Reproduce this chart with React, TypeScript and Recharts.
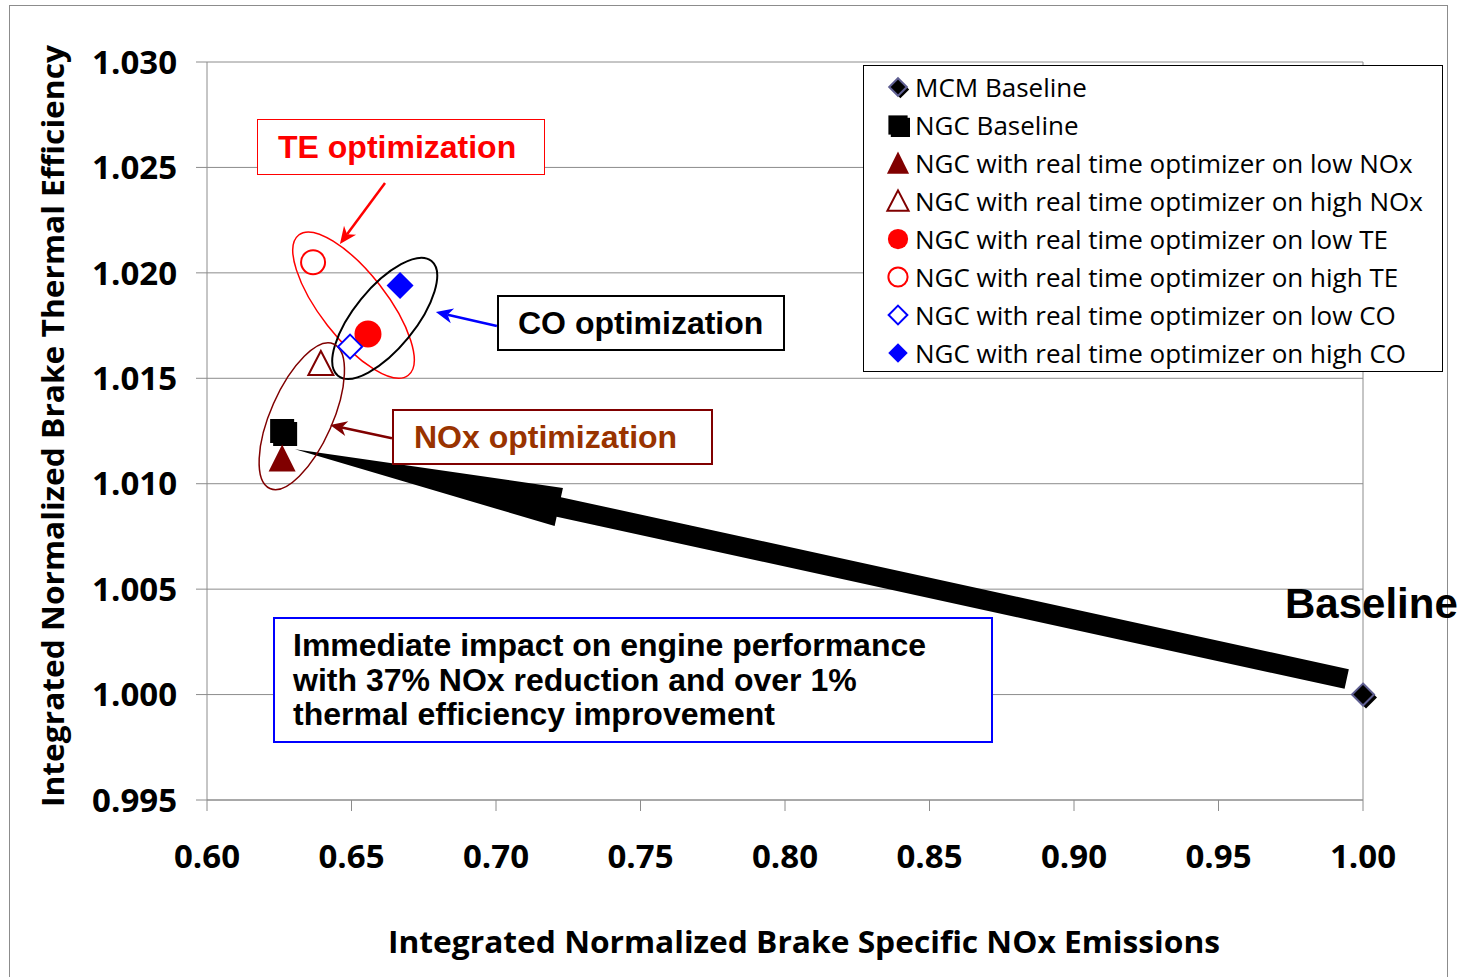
import React from 'react';
import {
  ScatterChart,
  Scatter,
  XAxis,
  YAxis,
  CartesianGrid,
  Legend,
  ReferenceDot,
  ReferenceLine,
} from 'recharts';

// ---------- data ----------
const xTicks = [0.6, 0.65, 0.7, 0.75, 0.8, 0.85, 0.9, 0.95, 1.0];
const yTicks = [0.995, 1.0, 1.005, 1.01, 1.015, 1.02, 1.025, 1.03];

const seriesNames = [
  'MCM Baseline',
  'NGC Baseline',
  'NGC with real time optimizer on low NOx',
  'NGC with real time optimizer on high NOx',
  'NGC with real time optimizer on low TE',
  'NGC with real time optimizer on high TE',
  'NGC with real time optimizer on low CO',
  'NGC with real time optimizer on high CO',
];

const mcmBaseline = [{ x: 1.0, y: 1.0 }];
const ngcBaseline = [{ x: 0.626, y: 1.0125 }];
const lowNOx = [{ x: 0.626, y: 1.0112 }];
const highNOx = [{ x: 0.6394, y: 1.0157 }];
const lowTE = [{ x: 0.6557, y: 1.0171 }];
const highTE = [{ x: 0.6367, y: 1.0205 }];
const lowCO = [{ x: 0.6495, y: 1.0165 }];
const highCO = [{ x: 0.6668, y: 1.0194 }];

// annotation anchors (data coordinates)
const teEllipseCenter = { x: 0.6507, y: 1.01847 };
const coEllipseCenter = { x: 0.6615, y: 1.01784 };
const noxEllipseCenter = { x: 0.6328, y: 1.0132 };
const bigArrow = [{ x: 0.99436, y: 1.00074 }, { x: 0.63045, y: 1.01163 }];
const teArrow = [{ x: 0.6616, y: 1.02426 }, { x: 0.646, y: 1.02137 }];
const coArrow = [{ x: 0.7003, y: 1.01748 }, { x: 0.6792, y: 1.01814 }];
const noxArrow = [{ x: 0.664, y: 1.01216 }, { x: 0.6426, y: 1.01278 }];

// ---------- styles ----------
const FONT_C = '"Open Sans", "Noto Sans", sans-serif';
const FONT_A = '"Liberation Sans", Arial, sans-serif';
const GRID = '#8c8c8c';
const DARKRED = '#800000';

type Kind = 'mcm' | 'ngc' | 'triF' | 'triO' | 'cirF' | 'cirO' | 'diaO' | 'diaF';
const kinds: Kind[] = ['mcm', 'ngc', 'triF', 'triO', 'cirF', 'cirO', 'diaO', 'diaF'];

function diamond(cx: number, cy: number, h: number) {
  return `${cx},${cy - h} ${cx + h},${cy} ${cx},${cy + h} ${cx - h},${cy}`;
}

function drawMarker(kind: Kind, cx: number, cy: number, s: number) {
  switch (kind) {
    case 'mcm':
      return (
        <g>
          <polygon points={diamond(cx + 3 * s, cy + 3 * s, 11 * s)} fill="#000" />
          <polygon points={diamond(cx, cy, 11 * s)} fill="#000" stroke="#5f5f92" strokeWidth={2} />
        </g>
      );
    case 'ngc':
      return (
        <g>
          <rect x={cx - 12 * s + 3 * s} y={cy - 12 * s + 3 * s} width={24 * s} height={24 * s} fill="#000" />
          <rect x={cx - 12 * s} y={cy - 12 * s} width={24 * s} height={24 * s} fill="#000" />
        </g>
      );
    case 'triF':
      return (
        <polygon
          points={`${cx},${cy - 14 * s} ${cx + 13.5 * s},${cy + 13 * s} ${cx - 13.5 * s},${cy + 13 * s}`}
          fill={DARKRED}
        />
      );
    case 'triO':
      return (
        <polygon
          points={`${cx},${cy - 12.5 * s} ${cx + 12.5 * s},${cy + 11.5 * s} ${cx - 12.5 * s},${cy + 11.5 * s}`}
          fill="#fff"
          stroke={DARKRED}
          strokeWidth={2}
        />
      );
    case 'cirF':
      return <circle cx={cx} cy={cy} r={13.5 * s} fill="#ff0000" />;
    case 'cirO':
      return <circle cx={cx} cy={cy} r={12 * s} fill="#fff" stroke="#ff0000" strokeWidth={2} />;
    case 'diaO':
      return <polygon points={diamond(cx, cy, 12 * s)} fill="#fff" stroke="#0000ff" strokeWidth={2} />;
    case 'diaF':
      return <polygon points={diamond(cx, cy, 13.5 * s)} fill="#0000ff" />;
  }
  return null;
}

const legendMarkerScale: Record<Kind, number> = {
  mcm: 0.8,
  ngc: 0.8,
  triF: 0.82,
  triO: 0.85,
  cirF: 0.75,
  cirO: 0.8,
  diaO: 0.78,
  diaF: 0.72,
};

const LegendBox = (props: any) => {
  const payload = ((props && props.payload) || []).slice();
  payload.sort((a: any, b: any) => seriesNames.indexOf(a.value) - seriesNames.indexOf(b.value));
  return (
    <div
      style={{
        width: 580,
        height: 307,
        border: '1px solid #000',
        background: '#fff',
        boxSizing: 'border-box',
        paddingTop: 2,
      }}
    >
      {payload.map((p: any, i: number) => {
        const idx = seriesNames.indexOf(p.value);
        const kind = kinds[idx >= 0 ? idx : i];
        return (
          <div key={i} style={{ height: 38, position: 'relative' }}>
            <svg width={40} height={38} style={{ position: 'absolute', left: 14, top: 0 }}>
              {drawMarker(kind, 20, 19, legendMarkerScale[kind])}
            </svg>
            <span
              style={{
                position: 'absolute',
                left: 51,
                top: 0,
                fontFamily: FONT_C,
                fontSize: 26,
                lineHeight: '38px',
                color: '#000',
                whiteSpace: 'nowrap',
              }}
            >
              {p.value}
            </span>
          </div>
        );
      })}
    </div>
  );
};

const ellipseShape = (rx: number, ry: number, angle: number, color: string, sw: number) => (p: any) => (
  <ellipse
    cx={p.cx}
    cy={p.cy}
    rx={rx}
    ry={ry}
    transform={`rotate(${angle} ${p.cx} ${p.cy})`}
    fill="none"
    stroke={color}
    strokeWidth={sw}
  />
);

const bigArrowShape = (p: any) => {
  const { x1, y1, x2, y2 } = p; // x1,y1 tail ; x2,y2 tip
  const dx = x1 - x2;
  const dy = y1 - y2;
  const len = Math.sqrt(dx * dx + dy * dy) || 1;
  const ux = dx / len;
  const uy = dy / len;
  const nx = -uy;
  const ny = ux;
  const headLen = 270;
  const headHalf = 19.5;
  const shaftHalf = 10;
  const bx = x2 + ux * headLen;
  const by = y2 + uy * headLen;
  const pts = [
    [x2, y2],
    [bx + nx * headHalf, by + ny * headHalf],
    [bx + nx * shaftHalf, by + ny * shaftHalf],
    [x1 + nx * shaftHalf, y1 + ny * shaftHalf],
    [x1 - nx * shaftHalf, y1 - ny * shaftHalf],
    [bx - nx * shaftHalf, by - ny * shaftHalf],
    [bx - nx * headHalf, by - ny * headHalf],
  ]
    .map((q) => `${q[0]},${q[1]}`)
    .join(' ');
  return <polygon points={pts} fill="#000" />;
};

const smallArrowShape = (color: string) => (p: any) => {
  const { x1, y1, x2, y2 } = p; // tail -> head
  const dx = x2 - x1;
  const dy = y2 - y1;
  const len = Math.sqrt(dx * dx + dy * dy) || 1;
  const ux = dx / len;
  const uy = dy / len;
  const nx = -uy;
  const ny = ux;
  const hl = 17;
  const hw = 7.5;
  const notch = 5;
  const bx = x2 - ux * hl;
  const by = y2 - uy * hl;
  const head = [
    [x2, y2],
    [bx + nx * hw, by + ny * hw],
    [x2 - ux * (hl - notch), y2 - uy * (hl - notch)],
    [bx - nx * hw, by - ny * hw],
  ]
    .map((q) => `${q[0]},${q[1]}`)
    .join(' ');
  return (
    <g>
      <line
        x1={x1}
        y1={y1}
        x2={x2 - ux * (hl - notch)}
        y2={y2 - uy * (hl - notch)}
        stroke={color}
        strokeWidth={2.5}
      />
      <polygon points={head} fill={color} />
    </g>
  );
};

const tickStyle = { fill: '#000', fontSize: 33, fontWeight: 700, fontFamily: FONT_C };

const boxText: React.CSSProperties = {
  position: 'absolute',
  boxSizing: 'border-box',
  background: '#fff',
  fontFamily: FONT_A,
  fontWeight: 700,
  fontSize: 32,
  whiteSpace: 'nowrap',
  display: 'flex',
  alignItems: 'center',
};

export default function App() {
  const seriesData = [mcmBaseline, ngcBaseline, lowNOx, highNOx, lowTE, highTE, lowCO, highCO];
  return (
    <div
      style={{
        position: 'absolute',
        left: 0,
        top: 0,
        width: 1460,
        height: 977,
        overflow: 'hidden',
        background: '#fff',
      }}
    >
      <div
        style={{
          position: 'absolute',
          left: 9,
          top: 5,
          width: 1439,
          height: 1000,
          border: '1px solid #8c8c8c',
          boxSizing: 'border-box',
        }}
      />
      <div style={{ position: 'absolute', left: 0, top: 0 }}>
        <ScatterChart
          width={1460}
          height={977}
          margin={{ top: 62, right: 97, bottom: 97, left: 77 }}
        >
          <CartesianGrid horizontal vertical={false} stroke={GRID} strokeWidth={1} />
          <XAxis
            type="number"
            dataKey="x"
            domain={[0.6, 1.0]}
            ticks={xTicks}
            interval={0}
            height={80}
            tickSize={11}
            tickMargin={34}
            tickFormatter={(v: number) => v.toFixed(2)}
            stroke={GRID}
            tick={tickStyle}
          />
          <YAxis
            type="number"
            dataKey="y"
            domain={[0.995, 1.03]}
            ticks={yTicks}
            interval={0}
            width={130}
            tickSize={11}
            tickMargin={19}
            tickFormatter={(v: number) => v.toFixed(3)}
            stroke={GRID}
            tick={tickStyle}
          />
          <ReferenceLine x={1.0} stroke={GRID} strokeWidth={1} />
          <ReferenceDot
            x={teEllipseCenter.x}
            y={teEllipseCenter.y}
            r={1}
            ifOverflow="visible"
            shape={ellipseShape(89, 33, 52, '#ff0000', 1.5)}
          />
          <ReferenceDot
            x={coEllipseCenter.x}
            y={coEllipseCenter.y}
            r={1}
            ifOverflow="visible"
            shape={ellipseShape(74, 30.5, -50.8, '#000', 2)}
          />
          <ReferenceDot
            x={noxEllipseCenter.x}
            y={noxEllipseCenter.y}
            r={1}
            ifOverflow="visible"
            shape={ellipseShape(79, 31, -66.2, DARKRED, 1.5)}
          />
          <ReferenceLine segment={bigArrow} ifOverflow="visible" shape={bigArrowShape} />
          <ReferenceLine segment={teArrow} ifOverflow="visible" shape={smallArrowShape('#ff0000')} />
          <ReferenceLine segment={coArrow} ifOverflow="visible" shape={smallArrowShape('#0000ff')} />
          <ReferenceLine segment={noxArrow} ifOverflow="visible" shape={smallArrowShape(DARKRED)} />
          {seriesData.map((d, i) => (
            <Scatter
              key={seriesNames[i]}
              name={seriesNames[i]}
              data={d}
              isAnimationActive={false}
              fill="#000"
              shape={(p: any) => drawMarker(kinds[i], p.cx, p.cy, 1)}
            />
          ))}
          <Legend
            layout="vertical"
            align="center"
            verticalAlign="middle"
            wrapperStyle={{ left: 863, top: 65, width: 580, height: 307 }}
            content={LegendBox}
          />
        </ScatterChart>
      </div>

      {/* axis titles */}
      <svg
        width={1460}
        height={977}
        style={{ position: 'absolute', left: 0, top: 0, pointerEvents: 'none' }}
      >
        <text
          x={804}
          y={953}
          textAnchor="middle"
          fontFamily={FONT_C}
          fontWeight={700}
          fontSize={30}
          fill="#000"
          textLength={832}
          lengthAdjust="spacingAndGlyphs"
        >
          Integrated Normalized Brake Specific NOx Emissions
        </text>
        <text
          transform="translate(64,426) rotate(-90)"
          x={0}
          y={0}
          textAnchor="middle"
          fontFamily={FONT_C}
          fontWeight={700}
          fontSize={30}
          fill="#000"
          textLength={762}
          lengthAdjust="spacingAndGlyphs"
        >
          Integrated Normalized Brake Thermal Efficiency
        </text>
      </svg>

      {/* annotation boxes */}
      <div
        style={{
          ...boxText,
          left: 257,
          top: 119,
          width: 288,
          height: 56,
          border: '1.5px solid #ff0000',
          color: '#ff0000',
          paddingLeft: 20,
        }}
      >
        TE optimization
      </div>
      <div
        style={{
          ...boxText,
          left: 497,
          top: 295,
          width: 288,
          height: 56,
          border: '2px solid #000',
          color: '#000',
          paddingLeft: 19,
        }}
      >
        CO optimization
      </div>
      <div
        style={{
          ...boxText,
          left: 392,
          top: 409,
          width: 321,
          height: 56,
          border: '2px solid #800000',
          color: '#993300',
          paddingLeft: 20,
        }}
      >
        NOx optimization
      </div>
      <div
        style={{
          ...boxText,
          left: 273,
          top: 617,
          width: 720,
          height: 126,
          border: '2px solid #0000ff',
          color: '#000',
          paddingLeft: 18,
          display: 'block',
          paddingTop: 9,
          lineHeight: '34.5px',
          whiteSpace: 'pre',
        }}
      >
        {'Immediate impact on engine performance\nwith 37% NOx reduction and over 1%\nthermal efficiency improvement'}
      </div>
      <div
        style={{
          position: 'absolute',
          left: 1285,
          top: 580,
          fontFamily: FONT_A,
          fontWeight: 700,
          fontSize: 42,
          lineHeight: '48px',
          color: '#000',
          whiteSpace: 'nowrap',
        }}
      >
        Baseline
      </div>
    </div>
  );
}
